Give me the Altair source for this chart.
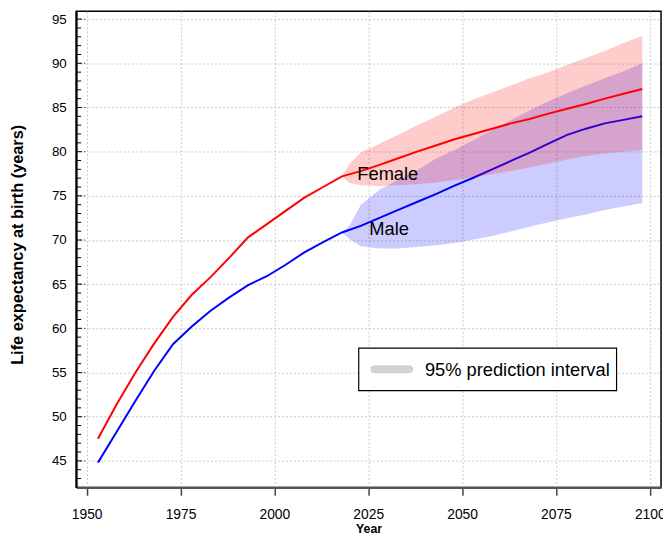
import altair as alt
import pandas as pd

# ---------------- data ----------------
years = [1953, 1958, 1963, 1968, 1973, 1978, 1983, 1988, 1993, 1998, 2003, 2008, 2013, 2018,
         2023, 2028, 2033, 2038, 2043, 2048, 2053, 2058, 2063, 2068, 2073, 2078, 2083, 2088, 2093, 2098]
female = [47.5, 51.4, 55.0, 58.3, 61.3, 63.8, 65.8, 68.0, 70.3, 71.8, 73.3, 74.8, 76.0, 77.2,
          77.8, 78.5, 79.25, 80.0, 80.7, 81.4, 82.0, 82.6, 83.2, 83.7, 84.3, 84.85, 85.4, 86.0, 86.55, 87.1]
male = [44.8, 48.3, 51.8, 55.2, 58.2, 60.2, 62.0, 63.5, 64.9, 65.9, 67.2, 68.6, 69.75, 70.85,
        71.6, 72.5, 73.4, 74.3, 75.2, 76.15, 77.05, 78.0, 78.95, 79.9, 80.9, 81.9, 82.6, 83.2, 83.6, 84.0]

band_years = [2018, 2020, 2023, 2028, 2033, 2038, 2043, 2048, 2053, 2058, 2063, 2068, 2073, 2078, 2083, 2088, 2093, 2098]
female_lo = [77.2, 76.45, 76.2, 76.1, 76.2, 76.3, 76.5, 76.8, 77.1, 77.45, 77.8, 78.2, 78.65, 79.1, 79.5, 79.8, 80.0, 80.2]
female_hi = [77.2, 78.6, 79.9, 80.9, 81.9, 83.0, 83.95, 85.0, 85.9, 86.7, 87.5, 88.3, 89.0, 89.8, 90.6, 91.4, 92.3, 93.1]
male_lo = [70.85, 70.1, 69.3, 69.05, 69.05, 69.2, 69.4, 69.65, 70.05, 70.45, 70.95, 71.5, 72.0, 72.45, 72.9, 73.4, 73.8, 74.2]
male_hi = [70.85, 71.6, 73.95, 75.7, 76.8, 77.9, 79.2, 80.2, 81.3, 82.45, 83.55, 84.7, 85.7, 86.6, 87.5, 88.3, 89.1, 90.0]

series_labels = ["Female", "Male"]
label_years = [2022.1, 2025.3]
label_values = [77.45, 71.2]

legend_label = "95% prediction interval"

x_ticks = [1950, 1975, 2000, 2025, 2050, 2075, 2100]
y_ticks = [45, 50, 55, 60, 65, 70, 75, 80, 85, 90, 95]
y_minor = list(range(43, 96))
x_domain = [1947.2, 2103.0]
y_domain = [42.0, 95.9]

x_title = "Year"
y_title = "Life expectancy at birth (years)"

# ---------------- tables ----------------
line_df = pd.DataFrame({"year": years, "Female": female, "Male": male})
band_df = pd.DataFrame({"year": band_years, "f_lo": female_lo, "f_hi": female_hi,
                        "m_lo": male_lo, "m_hi": male_hi})
lab_df = pd.DataFrame({"label": series_labels, "year": label_years, "value": label_values})
minor_df = pd.DataFrame({"v": y_minor})
major_df = pd.DataFrame({"v": y_ticks})
leg_df = pd.DataFrame({"key": [legend_label]})

FONT = "Liberation Sans"

xs = alt.Scale(domain=x_domain, nice=False, zero=False)
ys = alt.Scale(domain=y_domain, nice=False, zero=False)

x_axis = alt.Axis(values=x_ticks, format="d", grid=True, gridDash=[2, 2],
                  gridColor="#c8c8c8", gridWidth=1, tickSize=8, tickColor="#444",
                  tickWidth=1.5, domainColor="#555", domainWidth=2.5,
                  labelFontSize=14, labelFont=FONT, labelColor="black", labelPadding=13,
                  titleFont=FONT, titleFontSize=12.5, titleFontWeight="bold",
                  titleColor="black", titlePadding=1)
y_axis = alt.Axis(values=y_ticks, grid=True, gridDash=[2, 2], gridColor="#c8c8c8",
                  gridWidth=1, ticks=False, domainColor="black", domainWidth=2,
                  labelFontSize=13.5, labelFont=FONT, labelColor="black", labelPadding=10,
                  titleFont=FONT, titleFontSize=16.5, titleFontWeight="bold",
                  titleColor="black", titlePadding=26, titleY=236, titleAlign="center")


def X(field="year:Q"):
    return alt.X(field, scale=xs, title=x_title, axis=x_axis)


def Y(field):
    return alt.Y(field, scale=ys, title=y_title, axis=y_axis)


base_line = alt.Chart(line_df)
base_band = alt.Chart(band_df)

male_band = base_band.mark_area(color="#0000ff", opacity=0.2).encode(
    x=X(), y=Y("m_lo:Q"), y2="m_hi:Q")
male_line = base_line.mark_line(color="#0000ff", strokeWidth=2).encode(
    x=X(), y=Y("Male:Q"))
female_band = base_band.mark_area(color="#ff0000", opacity=0.2).encode(
    x=X(), y=Y("f_lo:Q"), y2="f_hi:Q")
female_line = base_line.mark_line(color="#ff0000", strokeWidth=2).encode(
    x=X(), y=Y("Female:Q"))

labels = alt.Chart(lab_df).mark_text(align="left", baseline="middle", fontSize=18.5,
                                      font=FONT, color="black").encode(
    x=X(), y=Y("value:Q"), text="label:N")

minor_ticks = alt.Chart(minor_df).mark_rule(color="black", strokeWidth=1).encode(
    y=Y("v:Q"), x=alt.value(0), x2=alt.value(5))
major_ticks = alt.Chart(major_df).mark_rule(color="#222", strokeWidth=1,
                                            strokeDash=[2, 2]).encode(
    y=Y("v:Q"), x=alt.value(0), x2=alt.value(9))

# legend box (decoration, in pixels of the plot area)
leg_box = alt.Chart(leg_df).mark_rect(fill="white", stroke="black", strokeWidth=1.2).encode(
    x=alt.value(286), x2=alt.value(547), y=alt.value(341), y2=alt.value(384))
leg_swatch = alt.Chart(leg_df).mark_rule(color="#d3d3d3", strokeWidth=8,
                                         strokeCap="round").encode(
    x=alt.value(302), x2=alt.value(337), y=alt.value(362.5))
leg_text = alt.Chart(leg_df).mark_text(align="left", baseline="middle", fontSize=18.5,
                                        font=FONT, color="black").encode(
    x=alt.value(353), y=alt.value(363), text="key:N")

chart = alt.layer(male_band, male_line, female_band, female_line, labels,
                  minor_ticks, major_ticks, leg_box, leg_swatch, leg_text).properties(
    width=592, height=482,
    autosize=alt.AutoSizeParams(type="none"),
    padding={"left": 69, "top": 0, "right": 2, "bottom": 46},
).configure_view(stroke="black", strokeWidth=1.5)

chart.save("out.html", embed_options={"renderer": "svg", "actions": False})
